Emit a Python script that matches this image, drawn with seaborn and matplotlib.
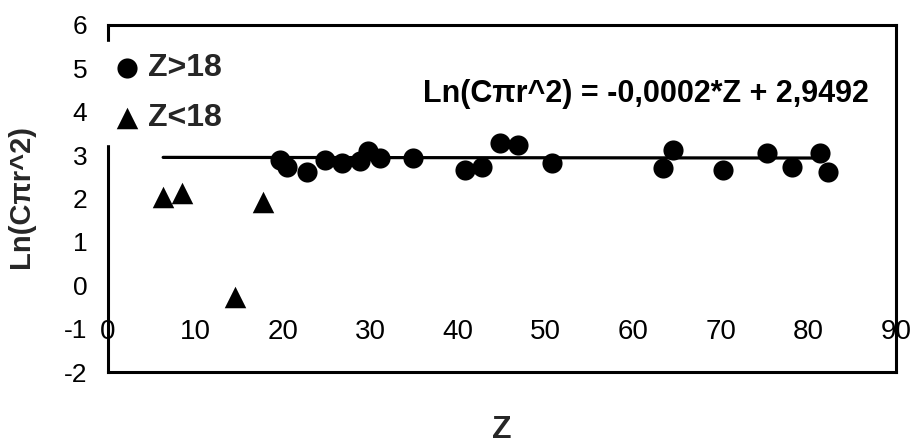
import matplotlib
matplotlib.use("Agg")
import matplotlib.pyplot as plt
import seaborn as sns
import numpy as np
import pandas as pd

# ---- data ----
z_high = [19.6, 20.4, 22.7, 24.8, 26.7, 28.8, 29.7, 31.1, 34.8, 40.8, 42.7,
          44.8, 46.8, 50.7, 63.4, 64.5, 70.2, 75.3, 78.1, 81.3, 82.2]
ln_high = [2.88, 2.72, 2.60, 2.88, 2.81, 2.86, 3.09, 2.93, 2.93, 2.65, 2.72,
           3.29, 3.23, 2.81, 2.70, 3.11, 2.65, 3.04, 2.72, 3.04, 2.60]
z_low = [6.3, 8.4, 14.5, 17.7]
ln_low = [2.03, 2.12, -0.28, 1.91]
label_high = "Z>18"
label_low = "Z<18"
slope = -0.0002
intercept = 2.9492
equation = "Ln(C\u03c0r^2) = -0,0002*Z + 2,9492"
x_ticks = [0, 10, 20, 30, 40, 50, 60, 70, 80, 90]
y_ticks = [-2, -1, 0, 1, 2, 3, 4, 5, 6]
x_label = "Z"
y_label = "Ln(C\u03c0r^2)"

sns.set_theme(style="white")
plt.rcParams["font.family"] = ["Liberation Sans", "DejaVu Sans"]
plt.rcParams["axes.unicode_minus"] = False

fig = plt.figure(figsize=(9.11, 4.45), dpi=100)
ax = fig.add_axes([108 / 911, 1 - 372 / 445, (896 - 108) / 911, (372 - 25) / 445])

# trend line spanning the data range
z_all = np.array(z_high + z_low)
z_fit = np.array([z_all.min(), z_all.max()])
fit_df = pd.DataFrame({"Z": z_fit, "Y": slope * z_fit + intercept})
sns.lineplot(data=fit_df, x="Z", y="Y", ax=ax, color="black", linewidth=2.3,
             legend=False, zorder=2)

hi_df = pd.DataFrame({"Z": z_high, "Y": ln_high})
lo_df = pd.DataFrame({"Z": z_low, "Y": ln_low})
sns.scatterplot(data=hi_df, x="Z", y="Y", ax=ax, marker="o", s=210,
                color="black", edgecolor="black", linewidth=0, label=label_high,
                zorder=3)
sns.scatterplot(data=lo_df, x="Z", y="Y", ax=ax, marker="^", s=240,
                color="black", edgecolor="black", linewidth=0, label=label_low,
                zorder=3)

ax.set_xlim(0, 90)
ax.set_ylim(-2, 6)
ax.set_yticks(y_ticks)
ax.set_xticks([])
ax.set_xlabel("")
ax.set_ylabel(y_label, fontsize=21, fontweight="bold")
ax.yaxis.set_label_coords(-0.093, 0.505)
ax.tick_params(axis="y", length=0, pad=15, labelsize=19, colors="black")
for s in ax.spines.values():
    s.set_visible(True)
    s.set_color("black")
    s.set_linewidth(2.2)

# x axis tick labels hanging below the y=0 line
sec = ax.secondary_xaxis(2 / 8)
sec.set_xticks(x_ticks)
sec.spines["bottom"].set_visible(False)
sec.tick_params(axis="x", length=0, pad=24, labelsize=20, colors="black")

fig.text(0.5 * (108 + 896) / 911, 1 - 430 / 445, x_label, ha="center",
         va="center", fontsize=23, fontweight="bold")

ax.text(61.4, 4.42, equation, ha="center", va="center", fontsize=22,
        fontweight="bold", color="black")

leg = ax.legend(loc="upper left", bbox_to_anchor=(103 / 911, 1 - 42 / 445),
                bbox_transform=fig.transFigure, frameon=True, fancybox=False,
                framealpha=1, facecolor="white", edgecolor="white",
                handlelength=0.8, handletextpad=0.25, borderpad=0.35,
                labelspacing=0.62, borderaxespad=0,
                prop={"size": 23, "weight": "bold"})
leg.set_zorder(10)

fig.savefig("out.png", dpi=100, facecolor="white")
